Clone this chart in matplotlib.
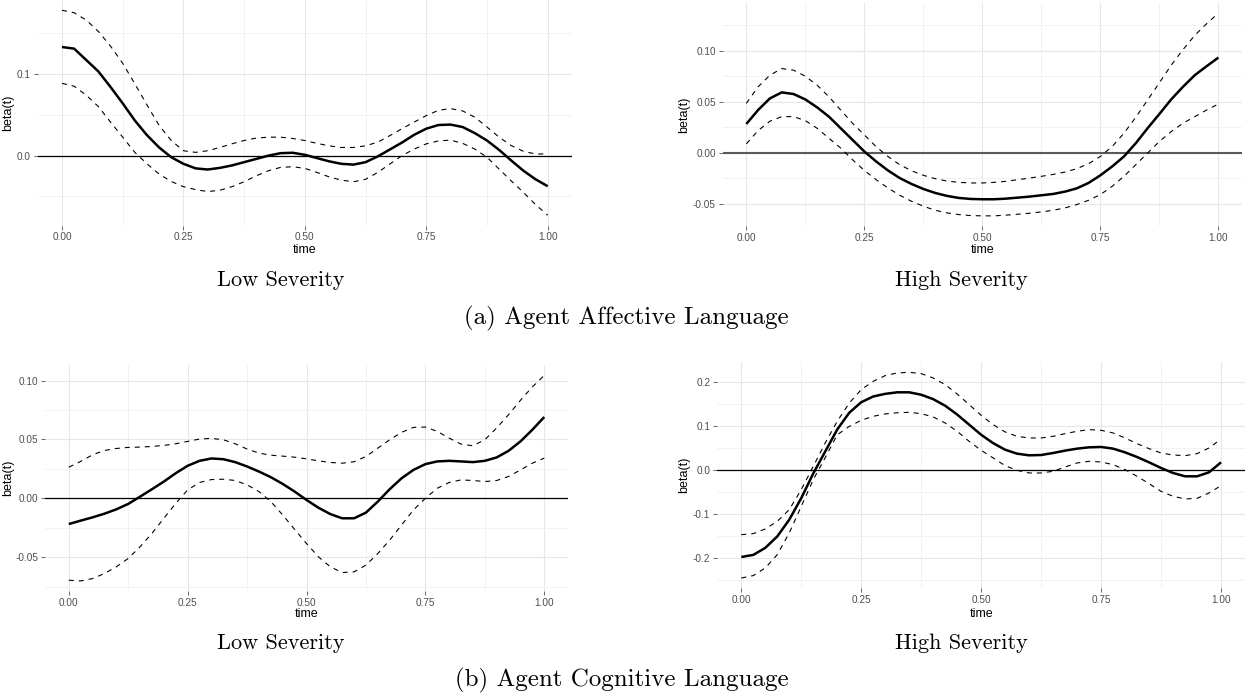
import numpy as np
import matplotlib
matplotlib.use("Agg")
import matplotlib.pyplot as plt

W, H, DPI = 1247, 698, 100

# shared time grid (step 0.025)
time = np.linspace(0.0, 1.0, 41)

# --- (a) Agent Affective Language, Low Severity ---
aff_low_est = [0.133, 0.131, 0.117, 0.103, 0.084, 0.064, 0.043, 0.025, 0.010, -0.002,
               -0.010, -0.0156, -0.017, -0.015, -0.012, -0.008, -0.004, 0.000, 0.003, 0.0035,
               0.001, -0.003, -0.007, -0.010, -0.011, -0.008, -0.001, 0.0075, 0.016, 0.0255,
               0.033, 0.0375, 0.038, 0.035, 0.0275, 0.0185, 0.007, -0.006, -0.0185, -0.029,
               -0.0375]
aff_low_hi = [0.178, 0.175, 0.166, 0.152, 0.134, 0.113, 0.088, 0.062, 0.037, 0.0185,
              0.006, 0.004, 0.006, 0.010, 0.0145, 0.0185, 0.0215, 0.0226, 0.0226, 0.021,
              0.0185, 0.015, 0.012, 0.010, 0.010, 0.012, 0.0165, 0.0245, 0.033, 0.041,
              0.049, 0.0555, 0.0576, 0.0547, 0.047, 0.035, 0.0226, 0.0123, 0.0053, 0.002,
              0.002]
aff_low_lo = [0.0885, 0.085, 0.074, 0.060, 0.041, 0.0226, 0.004, -0.010, -0.0226, -0.0317,
              -0.038, -0.0416, -0.044, -0.0424, -0.038, -0.032, -0.0247, -0.0185, -0.0144, -0.0136,
              -0.0156, -0.0206, -0.026, -0.030, -0.032, -0.029, -0.0206, -0.0103, 0.0, 0.008,
              0.0144, 0.018, 0.019, 0.015, 0.008, -0.002, -0.0165, -0.031, -0.045, -0.060,
              -0.073]

# --- (a) Agent Affective Language, High Severity ---
aff_high_est = [0.0283, 0.042, 0.0534, 0.0593, 0.0577, 0.0524, 0.0446, 0.0355, 0.0241, 0.0127,
                0.0013, -0.0085, -0.0173, -0.0248, -0.0306, -0.0355, -0.0394, -0.0423, -0.0443, -0.0453,
                -0.0456, -0.0456, -0.0450, -0.0440, -0.0430, -0.0417, -0.0404, -0.0381, -0.0349, -0.0296,
                -0.0221, -0.0134, -0.0036, 0.0094, 0.0241, 0.0381, 0.0524, 0.0648, 0.0762, 0.085,
                0.0935]
aff_high_hi = [0.0485, 0.0648, 0.0762, 0.0827, 0.0811, 0.0752, 0.0664, 0.055, 0.042, 0.029,
               0.0176, 0.006, -0.0036, -0.0117, -0.0176, -0.0221, -0.0254, -0.0277, -0.029, -0.0296,
               -0.0296, -0.029, -0.028, -0.0264, -0.0248, -0.0231, -0.0212, -0.0189, -0.0156, -0.0107,
               -0.0036, 0.0062, 0.0192, 0.0349, 0.0518, 0.0687, 0.086, 0.1013, 0.1153, 0.1267,
               0.1371]
aff_high_lo = [0.0088, 0.0218, 0.031, 0.0355, 0.0355, 0.0316, 0.0241, 0.0143, 0.0046, -0.0068,
               -0.0173, -0.0264, -0.0345, -0.0417, -0.0476, -0.0524, -0.0564, -0.059, -0.0606, -0.0616,
               -0.0619, -0.0619, -0.0612, -0.0603, -0.0593, -0.058, -0.0564, -0.0541, -0.0508, -0.0466,
               -0.041, -0.0329, -0.0231, -0.0117, -0.0003, 0.0111, 0.0208, 0.029, 0.0355, 0.042,
               0.0479]

# --- (b) Agent Cognitive Language, Low Severity ---
cog_low_est = [-0.0219, -0.019, -0.0162, -0.0131, -0.0094, -0.0048, 0.0014, 0.0077, 0.0142, 0.0213,
               0.0276, 0.0318, 0.0338, 0.0332, 0.0307, 0.027, 0.0227, 0.0179, 0.0122, 0.0057,
               -0.0014, -0.008, -0.0134, -0.017, -0.017, -0.0122, -0.0028, 0.0077, 0.017, 0.0241,
               0.029, 0.0313, 0.0318, 0.0313, 0.0307, 0.0318, 0.0347, 0.0403, 0.0483, 0.0582,
               0.069]
cog_low_hi = [0.0264, 0.0313, 0.0369, 0.0406, 0.0423, 0.0432, 0.0435, 0.044, 0.0449, 0.0463,
              0.0483, 0.0503, 0.0509, 0.0497, 0.0463, 0.0418, 0.0384, 0.0366, 0.0358, 0.0349,
              0.0335, 0.0318, 0.0304, 0.0298, 0.031, 0.0355, 0.0426, 0.0497, 0.056, 0.0602,
              0.0605, 0.0568, 0.0511, 0.046, 0.0446, 0.0497, 0.0597, 0.071, 0.0832, 0.0946,
              0.1043]
cog_low_lo = [-0.0696, -0.0702, -0.0682, -0.0639, -0.0582, -0.0511, -0.0412, -0.0298, -0.017, -0.0043,
              0.0071, 0.0134, 0.0159, 0.0162, 0.0151, 0.0114, 0.0057, -0.0028, -0.0142, -0.0264,
              -0.0384, -0.0497, -0.0582, -0.0631, -0.0625, -0.0568, -0.0469, -0.0355, -0.0227, -0.0099,
              0.0, 0.0085, 0.0134, 0.0156, 0.0151, 0.0142, 0.0151, 0.0185, 0.0241, 0.0298,
              0.0341]

# --- (b) Agent Cognitive Language, High Severity ---
cog_high_est = [-0.1977, -0.193, -0.177, -0.151, -0.113, -0.064, -0.008, 0.042, 0.092, 0.130,
                0.154, 0.167, 0.173, 0.1765, 0.1765, 0.171, 0.161, 0.146, 0.126, 0.103,
                0.080, 0.061, 0.046, 0.037, 0.0333, 0.034, 0.0386, 0.044, 0.0485, 0.0515,
                0.0523, 0.0485, 0.040, 0.0295, 0.0174, 0.0045, -0.0068, -0.0144, -0.0144, -0.0053,
                0.0174]
cog_high_hi = [-0.147, -0.1447, -0.134, -0.1167, -0.090, -0.0447, 0.0083, 0.0614, 0.1106, 0.152,
               0.1826, 0.2015, 0.2144, 0.2205, 0.222, 0.219, 0.209, 0.194, 0.1727, 0.1485,
               0.1242, 0.103, 0.0864, 0.0765, 0.0727, 0.0727, 0.0765, 0.0826, 0.0879, 0.0917,
               0.0902, 0.0841, 0.0727, 0.0598, 0.0485, 0.0386, 0.034, 0.0326, 0.0371, 0.050,
               0.0705]
cog_high_lo = [-0.2455, -0.240, -0.2227, -0.1924, -0.143, -0.0826, -0.022, 0.028, 0.080, 0.099,
               0.1129, 0.122, 0.1273, 0.130, 0.131, 0.128, 0.1205, 0.1068, 0.0879, 0.065,
               0.0447, 0.0273, 0.0098, -0.0008, -0.0068, -0.0068, -0.003, 0.0068, 0.0159, 0.0197,
               0.0182, 0.0121, 0.0008, -0.0144, -0.031, -0.0485, -0.0598, -0.0659, -0.0644, -0.0523,
               -0.0356]

x_breaks = [0.0, 0.25, 0.5, 0.75, 1.0]
x_labels = ["0.00", "0.25", "0.50", "0.75", "1.00"]
x_minor = [0.125, 0.375, 0.625, 0.875]

aff_low_ybreaks = [0.0, 0.1]
aff_low_ylabels = ["0.0", "0.1"]
aff_low_yminor = [-0.05, 0.05, 0.15]

aff_high_ybreaks = [-0.05, 0.0, 0.05, 0.10]
aff_high_ylabels = ["-0.05", "0.00", "0.05", "0.10"]
aff_high_yminor = [-0.025, 0.025, 0.075, 0.125]

cog_low_ybreaks = [-0.05, 0.0, 0.05, 0.10]
cog_low_ylabels = ["-0.05", "0.00", "0.05", "0.10"]
cog_low_yminor = [-0.075, -0.025, 0.025, 0.075]

cog_high_ybreaks = [-0.2, -0.1, 0.0, 0.1, 0.2]
cog_high_ylabels = ["-0.2", "-0.1", "0.0", "0.1", "0.2"]
cog_high_yminor = [-0.25, -0.15, -0.05, 0.05, 0.15]

sub_titles = ["Low Severity", "High Severity"]
captions = ["(a) Agent Affective Language", "(b) Agent Cognitive Language"]

SANS = ["Liberation Sans", "DejaVu Sans"]
SERIF = ["cmr10", "DejaVu Serif"]

fig = plt.figure(figsize=(W / DPI, H / DPI), dpi=DPI)
fig.patch.set_facecolor("white")


def fx(px):
    return px / W


def fy(py):
    return 1.0 - py / H


def panel(box, est, hi, lo, ybreaks, ylabels, yminor, zero_color="black", zero_lw=0.9):
    left, top, right, bottom = box
    ax = fig.add_axes([fx(left), fy(bottom), (right - left) / W, (bottom - top) / H])
    ax.set_facecolor("white")
    for s in ax.spines.values():
        s.set_visible(False)

    # ggplot-style 5% expansion of the data range
    ymin = min(min(lo), min(est))
    ymax = max(max(hi), max(est))
    pad = 0.05 * (ymax - ymin)
    ax.set_ylim(ymin - pad, ymax + pad)
    ax.set_xlim(-0.05, 1.05)

    ax.set_xticks(x_breaks)
    ax.set_xticklabels(x_labels)
    ax.set_xticks(x_minor, minor=True)
    ax.set_yticks(ybreaks)
    ax.set_yticklabels(ylabels)
    ax.set_yticks(yminor, minor=True)

    ax.grid(True, which="major", color="#E6E6E6", linewidth=0.8, zorder=0)
    ax.grid(True, which="minor", color="#F0F0F0", linewidth=0.6, zorder=0)
    ax.tick_params(which="major", length=3.0, width=0.6, color="#4D4D4D",
                   labelsize=7.2, labelcolor="#4D4D4D", pad=2)
    ax.tick_params(which="minor", length=0)
    for lab in ax.get_xticklabels() + ax.get_yticklabels():
        lab.set_fontfamily(SANS)

    ax.axhline(0.0, color=zero_color, linewidth=zero_lw, zorder=2)
    ax.plot(time, hi, color="black", linewidth=0.8, linestyle=(0, (4.5, 4.5)),
            solid_joinstyle="round", zorder=3)
    ax.plot(time, lo, color="black", linewidth=0.8, linestyle=(0, (4.5, 4.5)),
            solid_joinstyle="round", zorder=3)
    ax.plot(time, est, color="black", linewidth=1.8, solid_joinstyle="round",
            solid_capstyle="butt", zorder=4)

    cx = (left + right) / 2.0
    cy = (top + bottom) / 2.0
    return ax, cx, cy


boxes = {
    "aff_low": (37.7, 0.0, 572.0, 225.5),
    "aff_high": (722.7, 3.0, 1242.0, 226.0),
    "cog_low": (45.0, 365.2, 568.0, 591.2),
    "cog_high": (717.3, 362.0, 1245.0, 588.3),
}

ax1, c1x, c1y = panel(boxes["aff_low"], aff_low_est, aff_low_hi, aff_low_lo,
                      aff_low_ybreaks, aff_low_ylabels, aff_low_yminor)
ax2, c2x, c2y = panel(boxes["aff_high"], aff_high_est, aff_high_hi, aff_high_lo,
                      aff_high_ybreaks, aff_high_ylabels, aff_high_yminor,
                      zero_color="#5A5A5A", zero_lw=1.5)
ax3, c3x, c3y = panel(boxes["cog_low"], cog_low_est, cog_low_hi, cog_low_lo,
                      cog_low_ybreaks, cog_low_ylabels, cog_low_yminor)
ax4, c4x, c4y = panel(boxes["cog_high"], cog_high_est, cog_high_hi, cog_high_lo,
                      cog_high_ybreaks, cog_high_ylabels, cog_high_yminor)

# axis titles
for cx, ty in [(c1x, 250), (c2x, 250), (c3x, 614), (c4x, 614)]:
    fig.text(fx(cx), fy(ty), "time", ha="center", va="center", fontsize=9,
             family=SANS, color="black")
for lx, cy in [(8.3, c1y), (684.0, c2y), (8.3, c3y), (684.0, c4y)]:
    fig.text(fx(lx), fy(cy), "beta(t)", ha="center", va="center", rotation=90,
             fontsize=9, family=SANS, color="black")

# sub-figure titles
for (sx, sy), t in zip([(281, 280), (961, 280), (281, 643), (961, 643)],
                       sub_titles * 2):
    fig.text(fx(sx), fy(sy), t, ha="center", va="center", fontsize=16,
             family=SERIF, color="black")

# captions
fig.text(fx(626), fy(318), captions[0], ha="center", va="center", fontsize=18,
         family=SERIF, color="black")
fig.text(fx(622), fy(680), captions[1], ha="center", va="center", fontsize=18,
         family=SERIF, color="black")

fig.savefig("out.png", dpi=DPI, facecolor="white")
